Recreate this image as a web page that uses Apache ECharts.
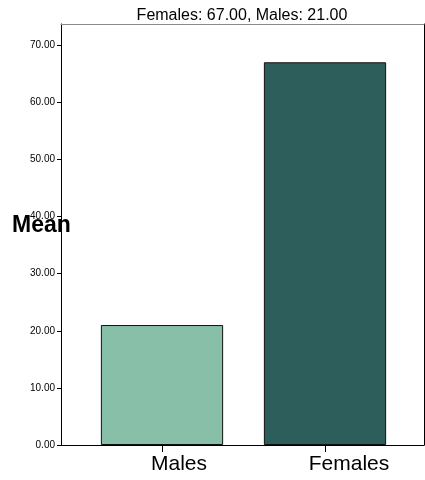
<!DOCTYPE html>
<html>
<head>
<meta charset="utf-8">
<script src="https://cdn.jsdelivr.net/npm/echarts@6/dist/echarts.min.js"></script>
<style>html,body{margin:0;padding:0;background:#fff}#c{width:425px;height:480px}</style>
</head>
<body>
<div id="c"></div>
<script>
var categories = ['Males', 'Females'];
var meanValues = [21.00, 67.00];
var barColors = ['#88BFA9', '#2D5E5C'];
var yTicks = [0, 10, 20, 30, 40, 50, 60, 70];
var yMax = 73.7;
var titleText = 'Females: 67.00, Males: 21.00';
var yName = 'Mean';
var labelShift = [34, 48];

var chart = echarts.init(document.getElementById('c'), null, {renderer: 'canvas'});
var FONT = 'Liberation Sans, Arial, sans-serif';
var option = {
  animation: false,
  backgroundColor: '#fff',
  title: [
    {text: titleText, left: 237, top: 3, textAlign: 'center', padding: 5,
     textStyle: {fontFamily: FONT, fontSize: 16, fontWeight: 'normal', color: '#000'}},
    {text: yName, left: 7, top: 209,
     textStyle: {fontFamily: FONT, fontSize: 23, fontWeight: 'bold', color: '#000'}}
  ],
  grid: [
    {left: 61, right: 1, top: 24, bottom: 35, show: false},
    {left: 80.5, right: 18.5, top: 24, bottom: 35, show: false}
  ],
  xAxis: [
    {gridIndex: 0, type: 'value', min: 0, max: 1, position: 'bottom',
     axisLine: {show: true, onZero: false, lineStyle: {color: '#000', width: 1}},
     axisTick: {show: false}, axisLabel: {show: false}, splitLine: {show: false}},
    {gridIndex: 0, type: 'value', min: 0, max: 1, position: 'top',
     axisLine: {show: true, onZero: false, lineStyle: {color: '#8a8a8a', width: 1}},
     axisTick: {show: false}, axisLabel: {show: false}, splitLine: {show: false}},
    {gridIndex: 1, type: 'category',
     data: categories.map(function (c, i) {
       return {value: c, textStyle: {padding: [0, 0, 0, labelShift[i]]}};
     }),
     axisLine: {show: false},
     axisTick: {show: true, alignWithLabel: true, length: 7, lineStyle: {color: '#000'}},
     axisLabel: {fontFamily: FONT, fontSize: 21, color: '#000', margin: 9},
     splitLine: {show: false}}
  ],
  yAxis: [
    {gridIndex: 0, type: 'value', min: 0, max: yMax, interval: 10,
     axisLine: {show: true, onZero: false, lineStyle: {color: '#000', width: 1}},
     axisTick: {show: true, length: 4, customValues: yTicks, lineStyle: {color: '#000'}},
     axisLabel: {fontFamily: FONT, fontSize: 10, color: '#000', margin: 6,
                 customValues: yTicks,
                 formatter: function (v) { return v.toFixed(2); }},
     splitLine: {show: false}},
    {gridIndex: 0, type: 'value', min: 0, max: yMax, position: 'right',
     axisLine: {show: true, onZero: false, lineStyle: {color: '#000', width: 1}},
     axisTick: {show: false}, axisLabel: {show: false}, splitLine: {show: false}},
    {gridIndex: 1, type: 'value', min: 0, max: yMax, show: false}
  ],
  series: [{
    type: 'bar', xAxisIndex: 2, yAxisIndex: 2,
    barWidth: '75%',
    data: meanValues.map(function (v, i) {
      return {value: v, itemStyle: {color: barColors[i]}};
    }),
    itemStyle: {borderColor: '#111', borderWidth: 1}
  }]
};
chart.setOption(option);
</script>
</body>
</html>
